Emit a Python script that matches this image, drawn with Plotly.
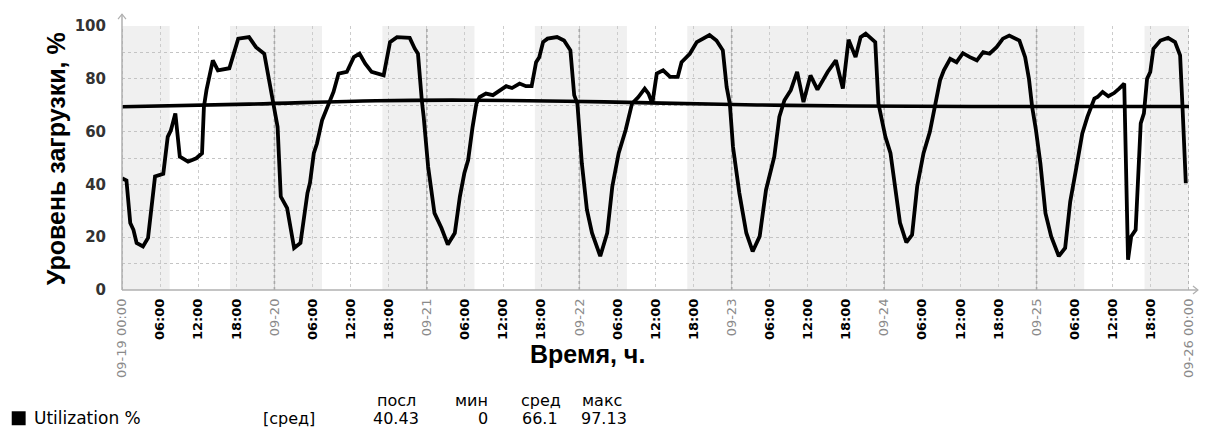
import pandas as pd
import plotly.graph_objects as go

# Utilization samples: hours since 2017-09-19 00:00 and load in percent
hours = [
    0.0, 0.7, 1.3, 1.8, 2.3, 3.3, 4.1, 5.2, 6.5, 7.2, 7.7, 8.4, 9.1, 10.4, 11.7,
    12.6, 12.9, 13.3, 14.3, 15.1, 16.9, 17.4, 18.3, 20.0, 21.1, 22.4, 23.2, 23.8,
    24.5, 25.0, 26.0, 27.1, 28.1, 29.2, 29.6, 30.2, 30.7, 31.5, 32.3, 33.3, 34.1,
    35.4, 36.5, 37.4, 38.3, 39.3, 41.2, 42.2, 43.3, 45.3, 46.1, 46.6, 47.2, 47.5,
    48.2, 49.2, 50.3, 51.3, 52.4, 53.2, 53.9, 54.5, 55.2, 55.8, 56.3, 57.3, 58.4,
    59.4, 60.5, 61.4, 62.6, 63.6, 64.5, 65.2, 65.7, 66.3, 67.0, 68.5, 69.6, 70.6,
    71.2, 71.7, 72.4, 73.2, 74.0, 75.3, 76.4, 77.2, 78.2, 79.3, 80.3, 81.3, 82.3,
    82.9, 83.5, 84.2, 85.2, 86.3, 87.5, 88.1, 89.4, 90.5, 92.5, 93.6, 94.6, 95.2,
    95.7, 96.2, 97.2, 98.3, 99.3, 100.4, 101.4, 102.7, 103.5, 104.3, 105.3, 106.3,
    107.3, 108.4, 109.5, 111.1, 112.4, 113.5, 114.4, 115.5, 116.3, 117.1, 118.6,
    119.1, 120.2, 121.0, 122.0, 122.5, 123.5, 124.4, 125.2, 126.2, 127.2, 128.0,
    128.8, 129.4, 130.4, 131.4, 132.4, 133.5, 134.6, 135.6, 136.6, 137.7, 138.7,
    139.7, 141.3, 142.2, 142.8, 143.3, 143.9, 144.6, 145.4, 146.3, 147.5, 148.5,
    149.3, 150.2, 151.2, 152.0, 153.1, 153.6, 154.4, 155.3, 156.2, 157.0, 157.8,
    158.4, 158.9, 159.6, 160.4, 160.9, 161.4, 161.9, 162.4, 163.5, 164.7, 165.8,
    166.6, 167.0, 167.5,
]
utilization = [
    42.3, 41.5, 25.4, 22.8, 17.8, 16.5, 19.7, 43.0, 44.0, 58.0, 60.5, 66.9, 50.5, 48.6, 49.9,
    51.8, 69.4, 75.7, 87.0, 83.2, 84.0, 87.6, 95.2, 95.8, 92.0, 89.5, 78.8, 70.6,
    61.8, 35.4, 31.0, 15.9, 17.8, 36.7, 40.6, 51.8, 55.5, 64.3, 68.8, 75.0, 82.0,
    82.6, 88.2, 89.5, 85.7, 82.6, 81.3, 93.9, 95.8, 95.5, 91.4, 89.5, 71.9, 65.6,
    46.7, 29.1, 23.5, 17.2, 21.6, 35.4, 44.2, 49.2, 61.8, 70.6, 73.1, 74.4, 73.8,
    75.4, 77.2, 76.5, 78.2, 77.2, 77.2, 86.3, 88.2, 93.9, 95.2, 95.8, 94.5, 90.8,
    73.8, 70.6, 48.0, 30.4, 21.6, 12.8, 21.6, 39.2, 51.8, 60.6, 70.6, 73.1, 76.3,
    74.4, 70.6, 82.0, 83.2, 80.7, 80.7, 86.3, 89.5, 93.9, 96.6, 94.5, 90.8, 76.9,
    70.6, 54.3, 36.7, 21.6, 14.6, 20.3, 37.9, 50.5, 65.6, 71.9, 75.7, 82.6,
    71.2, 81.3, 75.9, 82.6, 87.0, 76.3, 94.8, 88.2, 95.8, 97.13, 93.9,
    70.6, 58.0, 51.8, 35.4, 25.4, 18.0, 20.9, 39.2, 51.8, 59.9, 70.6,
    79.4, 83.2, 87.6, 86.3, 89.7, 88.2, 87.0, 90.1, 89.5, 92.0, 95.2,
    96.4, 94.5, 88.2, 80.0, 69.4, 60.6, 48.0, 29.1, 20.3, 12.8, 15.9,
    33.5, 45.5, 59.3, 65.6, 72.5, 73.1, 75.0, 73.4, 74.6, 76.3, 78.2,
    11.5, 20.3, 22.8, 63.1, 66.9, 80.0, 82.6, 91.4, 94.5, 95.5, 93.9,
    88.9, 68.1, 40.43,
]

# Smoothed average curve
trend_hours = [0, 20, 40, 55, 70, 85, 100, 115, 140, 168]
trend_values = [69.4, 70.4, 71.7, 71.9, 71.5, 70.8, 70.1, 69.7, 69.5, 69.5]

# Off-hours / weekend shading intervals (hours since start)
shade_start = [0, 17, 41, 65, 89, 161]
shade_end = [7.5, 31.5, 55.5, 79.5, 151.5, 168]

# Summary table under the chart
stat_headers = ["посл", "мин", "сред", "макс"]
stat_values = ["40.43", "0", "66.1", "97.13"]

start = pd.Timestamp("2017-09-19 00:00")
t = [start + pd.Timedelta(hours=h) for h in hours]
tt = [start + pd.Timedelta(hours=h) for h in trend_hours]

tick_times = [start + pd.Timedelta(hours=6 * i) for i in range(29)]
tick_text = []
for ts in tick_times:
    if ts.hour == 0:
        if ts == tick_times[0] or ts == tick_times[-1]:
            lab = ts.strftime("%m-%d %H:%M")
        else:
            lab = ts.strftime("%m-%d")
        tick_text.append(f'<span style="color:#8a8a8a">{lab}</span>')
    else:
        tick_text.append(f"<b>{ts.strftime('%H:%M')}</b>")

fig = go.Figure()
fig.add_trace(go.Scatter(x=t, y=utilization, mode="lines",
                         line=dict(color="black", width=3.8), showlegend=False))
fig.add_trace(go.Scatter(x=tt, y=trend_values, mode="lines",
                         line=dict(color="black", width=3.6, shape="spline"),
                         showlegend=False))

shapes = []
for a, b in zip(shade_start, shade_end):
    shapes.append(dict(type="rect", xref="x", yref="y",
                       x0=start + pd.Timedelta(hours=a), x1=start + pd.Timedelta(hours=b),
                       y0=0, y1=100, fillcolor="#f0f0f0", line_width=0, layer="below"))
# darker dotted lines at day boundaries
for ts in tick_times:
    if ts.hour == 0:
        shapes.append(dict(type="line", xref="x", yref="y", x0=ts, x1=ts, y0=0, y1=100,
                           line=dict(color="#a8a8a8", width=1.6, dash="dot"), layer="below"))

# axis lines with small arrow heads
pw, ph = 1074.0, 264.5
shapes.append(dict(type="line", xref="paper", yref="paper", x0=0, x1=0, y0=0, y1=1.045,
                   line=dict(color="#b0b0b0", width=1.5)))
shapes.append(dict(type="path", xref="paper", yref="paper",
                   path=f"M {-4/pw} {1.045-5/ph} L 0 1.045 L {4/pw} {1.045-5/ph}",
                   line=dict(color="#b0b0b0", width=1.2)))
shapes.append(dict(type="line", xref="paper", yref="paper", x0=0, x1=1 + 9 / pw, y0=0, y1=0,
                   line=dict(color="#b0b0b0", width=1.5)))
shapes.append(dict(type="path", xref="paper", yref="paper",
                   path=f"M {1+4/pw} {4/ph} L {1+9/pw} 0 L {1+4/pw} {-4/ph}",
                   line=dict(color="#b0b0b0", width=1.2)))


def px(x):
    return (x - 122) / pw


def py(y):
    return (290.5 - y) / ph


# legend square
shapes.append(dict(type="rect", xref="paper", yref="paper", x0=px(11), x1=px(25),
                   y0=py(426), y1=py(412), fillcolor="black", line_width=0))

annotations = [
    dict(text="<b>Время, ч.</b>", x=px(591), y=py(355), xref="paper", yref="paper",
         showarrow=False, font=dict(family="Liberation Sans", size=25, color="black"),
         xanchor="center", yanchor="middle"),
    dict(text="<b>Уровень загрузки, %</b>", x=px(55), y=py(159), xref="paper", yref="paper",
         showarrow=False, textangle=-90,
         font=dict(family="Liberation Sans", size=25, color="black"),
         xanchor="center", yanchor="middle"),
    dict(text="Utilization %", x=px(31), y=py(419), xref="paper", yref="paper",
         showarrow=False, font=dict(family="DejaVu Sans", size=17, color="black"),
         xanchor="left", yanchor="middle"),
    dict(text="[сред]", x=px(262), y=py(419), xref="paper", yref="paper",
         showarrow=False, font=dict(family="DejaVu Sans", size=16, color="black"),
         xanchor="left", yanchor="middle"),
]
header_right = [420, 492, 566, 627]
value_right = [423, 492, 563, 632]
for h, xr in zip(stat_headers, header_right):
    annotations.append(dict(text=h, x=px(xr), y=py(401), xref="paper", yref="paper",
                            showarrow=False, xanchor="right", yanchor="middle",
                            font=dict(family="DejaVu Sans", size=16, color="black")))
for v, xr in zip(stat_values, value_right):
    annotations.append(dict(text=v, x=px(xr), y=py(419), xref="paper", yref="paper",
                            showarrow=False, xanchor="right", yanchor="middle",
                            font=dict(family="DejaVu Sans", size=16, color="black")))

fig.update_layout(
    width=1208, height=430,
    margin=dict(l=122, r=12, t=26, b=139.5),
    paper_bgcolor="white", plot_bgcolor="white",
    shapes=shapes, annotations=annotations,
    xaxis=dict(
        type="date", range=[start, start + pd.Timedelta(hours=168)],
        tickmode="array", tickvals=tick_times, ticktext=tick_text,
        tickangle=-90, tickfont=dict(family="DejaVu Sans", size=13, color="black"),
        showgrid=True, gridcolor="#cccccc", griddash="dot", gridwidth=1,
        showline=False, zeroline=False, ticks="", ticklabelstandoff=5,
    ),
    yaxis=dict(
        range=[0, 100], tickvals=[0, 20, 40, 60, 80, 100],
        tickfont=dict(family="DejaVu Sans", size=15, color="#333333", weight="bold"),
        showgrid=False, zeroline=False, showline=False, ticks="",
        ticklabelstandoff=15,
        minor=dict(tickvals=[10, 20, 30, 40, 50, 60, 70, 80, 90], showgrid=True,
                   gridcolor="#c4c4c4", griddash="dot", gridwidth=1),
    ),
)

fig.write_html("out.html")
